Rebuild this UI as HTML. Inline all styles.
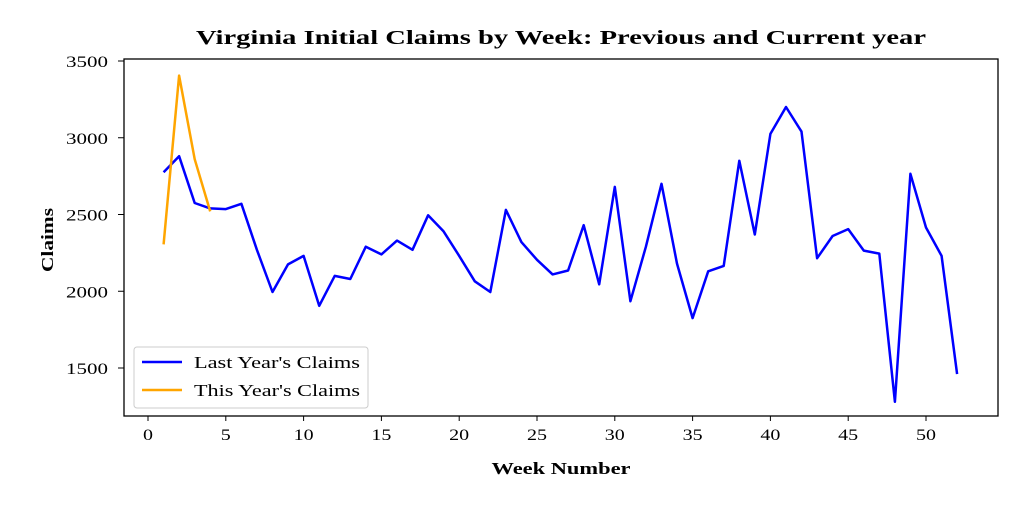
<!DOCTYPE html>
<html><head><meta charset="utf-8"><style>
html,body{margin:0;padding:0;background:#fff;}
svg{display:block;font-family:"Liberation Serif","DejaVu Serif",serif;}
</style></head><body>
<svg id="s" width="1024" height="512" xmlns="http://www.w3.org/2000/svg">
<rect width="1024" height="512" fill="#fff"/>
<text x="561" y="44" text-anchor="middle" font-size="20" font-weight="bold" textLength="730" lengthAdjust="spacingAndGlyphs">Virginia Initial Claims by Week: Previous and Current year</text>
<text x="561" y="474" text-anchor="middle" font-size="17" font-weight="bold" textLength="139" lengthAdjust="spacingAndGlyphs">Week Number</text>
<text transform="translate(53,240) rotate(-90)" text-anchor="middle" font-size="17" font-weight="bold" textLength="64" lengthAdjust="spacingAndGlyphs">Claims</text>
<g id="g"></g>
<rect x="124" y="59" width="874" height="357" fill="none" stroke="#000" stroke-width="1.3"/>
<g transform="translate(134,347)">
<rect x="0" y="0" width="234" height="61" fill="#fff" stroke="#ccc" rx="3"/>
<line x1="8" y1="15" x2="48" y2="15" stroke="#0000ff" stroke-width="2.5"/>
<text x="60" y="21" font-size="17" textLength="166" lengthAdjust="spacingAndGlyphs">Last Year's Claims</text>
<line x1="8" y1="43" x2="48" y2="43" stroke="#ffa500" stroke-width="2.5"/>
<text x="60" y="49" font-size="17" textLength="166" lengthAdjust="spacingAndGlyphs">This Year's Claims</text>
</g>
</svg>
<script>
var X=function(w){return 148+w*15.56;},Y=function(v){return 61+(3500-v)*0.1535;};
var g=document.getElementById('g'),h="";
for(var t=0;t<=50;t+=5){var L=t<10?10:20;h+='<line x1="'+X(t)+'" y1="416" x2="'+X(t)+'" y2="421" stroke="#000"/><text x="'+X(t)+'" y="440" text-anchor="middle" font-size="16" textLength="'+L+'" lengthAdjust="spacingAndGlyphs">'+t+'</text>';}
for(var v=1500;v<=3500;v+=500){h+='<line x1="118" y1="'+Y(v)+'" x2="124" y2="'+Y(v)+'" stroke="#000"/><text x="108" y="'+(Y(v)+6)+'" text-anchor="end" font-size="16" textLength="42" lengthAdjust="spacingAndGlyphs">'+v+'</text>';}
var a=[2775,2880,2575,2540,2535,2570,2270,1995,2175,2230,1905,2100,2080,2290,2240,2330,2270,2495,2390,2230,2065,1995,2530,2320,2205,2110,2135,2430,2045,2680,1935,2290,2700,2180,1825,2130,2165,2850,2370,3025,3200,3040,2215,2360,2405,2265,2245,1280,2765,2415,2230,1460];
var b=[2305,3405,2860,2520];
function pl(d,c){return '<polyline fill="none" stroke="'+c+'" stroke-width="2.5" stroke-linejoin="round" points="'+d.map(function(v,i){return X(i+1).toFixed(1)+','+Y(v).toFixed(1);}).join(' ')+'"/>';}
h+=pl(a,'#0000ff')+pl(b,'#ffa500');
g.innerHTML=h;
</script>
</body></html>
